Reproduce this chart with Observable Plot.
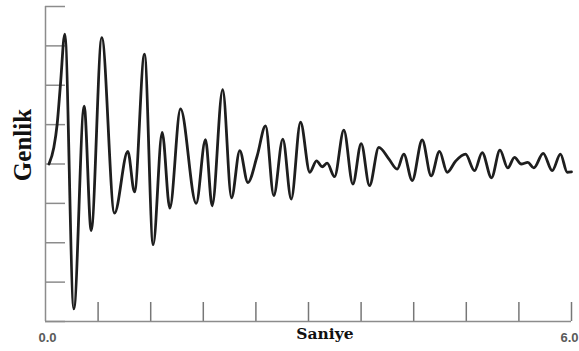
<!DOCTYPE html>
<html>
<head>
<meta charset="utf-8">
<script src="https://cdn.jsdelivr.net/npm/d3@7"></script>
<script src="https://cdn.jsdelivr.net/npm/@observablehq/plot@0.6"></script>
<style>
  html, body { margin: 0; padding: 0; background: #fff; }
  #chart { width: 579px; height: 351px; }
</style>
</head>
<body>
<div id="chart"></div>
<script>
// Time (seconds) of each traced point of the waveform
const seconds = [0.04, 0.095, 0.133, 0.171, 0.220, 0.323, 0.441, 0.521, 0.642, 0.787,
  0.939, 1.015, 1.129, 1.228, 1.331, 1.418, 1.540, 1.719, 1.825, 1.901,
  2.021, 2.122, 2.216, 2.308, 2.415, 2.510, 2.604, 2.707, 2.803, 2.909,
  3.015, 3.091, 3.156, 3.213, 3.297, 3.403, 3.506, 3.601, 3.696, 3.802,
  3.916, 4.012, 4.087, 4.183, 4.297, 4.399, 4.494, 4.582, 4.677, 4.791,
  4.894, 4.981, 5.087, 5.184, 5.273, 5.350, 5.426, 5.501, 5.570, 5.677,
  5.780, 5.874, 5.951, 6.0];
// Amplitude at each of those times
const amplitude = [0.0, 0.42, 1.01, 2.03, 3.30, -3.68, 1.47, -1.69, 3.21, -1.25,
  0.32, -0.71, 2.79, -2.05, 0.80, -1.12, 1.40, -1.00, 0.62, -1.06,
  1.89, -0.86, 0.34, -0.47, 0.21, 0.97, -0.80, 0.63, -0.89, 1.06,
  -0.21, 0.08, -0.07, 0.02, -0.32, 0.86, -0.51, 0.52, -0.55, 0.42,
  0.13, -0.13, 0.25, -0.42, 0.61, -0.30, 0.32, -0.21, 0.07, 0.25,
  -0.17, 0.29, -0.35, 0.35, -0.10, 0.17, 0.0, 0.04, -0.10, 0.27,
  -0.17, 0.25, -0.21, -0.20];
const xTicks = [0.6, 1.2, 1.8, 2.4, 3.0, 3.6, 4.2, 4.8, 5.4, 6.0];
const xStartLabel = [0];
const xEndLabel = [6];
const yTicks = [-4, -3, -2, -1, 0, 1, 2, 3, 4];
const xTitle = "Saniye";
const yTitle = "Genlik";

const data = seconds.map((t, i) => ({t, a: amplitude[i]}));
const axisColor = "#8c8c8c";
const noLabel = () => "";
const labelStyle = {tickSize: 0, tickPadding: 11, tickFormat: d3.format(".1f"), label: null,
  fill: "#5a5a5a", fontSize: 13, fontWeight: "bold", fontFamily: "Liberation Sans, Arial, sans-serif"};

const svg = Plot.plot({
  width: 579,
  height: 351,
  marginLeft: 45,
  marginRight: 8,
  marginTop: 6,
  marginBottom: 30,
  style: {background: "#fff"},
  x: {domain: [0, 6]},
  y: {domain: [-4, 4]},
  marks: [
    // tick marks pointing inward, without labels
    Plot.axisY({ticks: yTicks, tickSize: -20, tickFormat: noLabel, label: null, stroke: axisColor, strokeWidth: 1.5}),
    Plot.axisX({ticks: xTicks, tickSize: -19, tickFormat: noLabel, label: null, stroke: "#777", strokeWidth: 1.5}),
    // tick labels 0.0 and 6.0
    Plot.axisX({ticks: xStartLabel, dx: 2, ...labelStyle}),
    Plot.axisX({ticks: xEndLabel, textAnchor: "end", dx: 7, ...labelStyle}),
    // axis lines
    Plot.ruleX([0], {stroke: axisColor, strokeWidth: 1.5}),
    Plot.ruleY([-4], {stroke: axisColor, strokeWidth: 1.5}),
    // waveform
    Plot.line(data, {x: "t", y: "a", curve: "monotone-x", stroke: "#1e1e1e", strokeWidth: 2.8})
  ]
});

const s = d3.select(svg);
s.append("text")
  .attr("x", 325).attr("y", 339)
  .attr("text-anchor", "middle")
  .attr("font-family", "DejaVu Serif")
  .attr("font-weight", "bold")
  .attr("font-size", 15.5)
  .attr("fill", "#111")
  .text(xTitle);
s.append("text")
  .attr("transform", "translate(31,145) rotate(-90)")
  .attr("text-anchor", "middle")
  .attr("font-family", "Liberation Serif")
  .attr("font-weight", "bold")
  .attr("font-size", 25)
  .attr("fill", "#111")
  .text(yTitle);

document.getElementById("chart").appendChild(svg);
</script>
</body>
</html>
